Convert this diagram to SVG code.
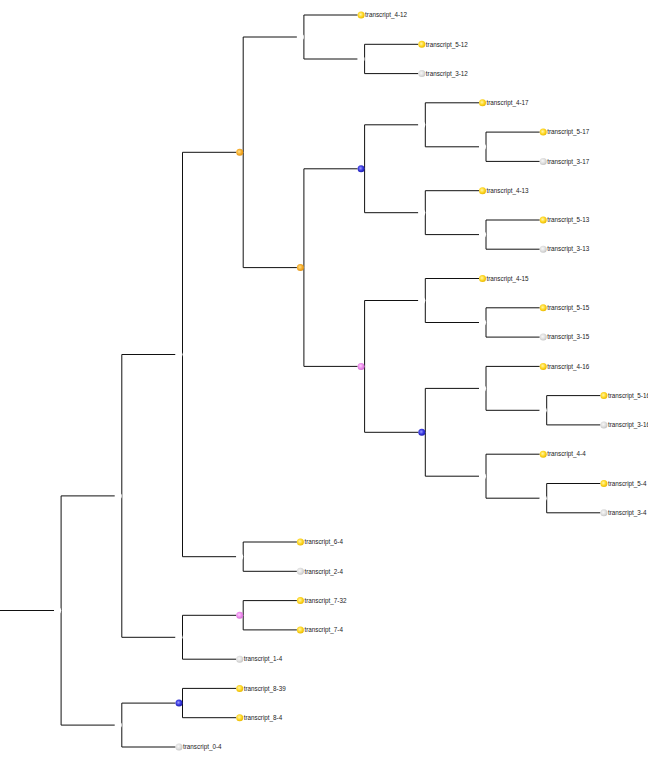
<svg xmlns="http://www.w3.org/2000/svg" width="648" height="762" viewBox="0 0 648 762">
<defs>
<radialGradient id="gy" cx="0.42" cy="0.42" r="0.6"><stop offset="0" stop-color="#fff6a8"/><stop offset="0.55" stop-color="#ffd92a"/><stop offset="1" stop-color="#e8b800"/></radialGradient>
<radialGradient id="gg" cx="0.42" cy="0.42" r="0.6"><stop offset="0" stop-color="#f8f8f8"/><stop offset="0.6" stop-color="#dedede"/><stop offset="1" stop-color="#c4c4c4"/></radialGradient>
<radialGradient id="go" cx="0.42" cy="0.42" r="0.6"><stop offset="0" stop-color="#ffe08a"/><stop offset="0.55" stop-color="#f7b030"/><stop offset="1" stop-color="#e09010"/></radialGradient>
<radialGradient id="gb" cx="0.42" cy="0.42" r="0.6"><stop offset="0" stop-color="#9a9aff"/><stop offset="0.55" stop-color="#3a3ae0"/><stop offset="1" stop-color="#1c1caa"/></radialGradient>
<radialGradient id="gp" cx="0.42" cy="0.42" r="0.6"><stop offset="0" stop-color="#ffd0ff"/><stop offset="0.55" stop-color="#ee8cee"/><stop offset="1" stop-color="#d070d0"/></radialGradient>
</defs>
<style>
.e{fill:none;stroke:#111;stroke-width:1}
.w{fill:#fff}
.y{fill:url(#gy)}
.g{fill:url(#gg)}
.o{fill:url(#go)}
.b{fill:url(#gb)}
.p{fill:url(#gp)}
text{font-family:"Liberation Sans",Arial,sans-serif;font-size:6.3px;fill:#222}
</style>
<g id="connectors">
<path class="e" d="M0,610.5H54.1"/>
<path class="e" d="M61.1,610.5V495.9H114.8"/>
<path class="e" d="M61.1,610.5V725.1H114.8"/>
<path class="e" d="M121.8,495.9V354.5H175.5"/>
<path class="e" d="M121.8,495.9V637.3H175.5"/>
<path class="e" d="M121.8,725.1V703.1H175.5"/>
<path class="e" d="M121.8,725.1V747H175.5"/>
<path class="e" d="M182.5,354.5V152.3H236.2"/>
<path class="e" d="M182.5,354.5V556.7H236.2"/>
<path class="e" d="M182.5,637.3V615.3H236.2"/>
<path class="e" d="M182.5,637.3V659.2H236.2"/>
<path class="e" d="M182.5,703.1V688.4H236.2"/>
<path class="e" d="M182.5,703.1V717.7H236.2"/>
<path class="e" d="M243.2,152.3V37H296.9"/>
<path class="e" d="M243.2,152.3V267.6H296.9"/>
<path class="e" d="M243.2,556.7V542H296.9"/>
<path class="e" d="M243.2,556.7V571.3H296.9"/>
<path class="e" d="M243.2,615.3V600.6H296.9"/>
<path class="e" d="M243.2,615.3V629.9H296.9"/>
<path class="e" d="M303.9,37V15H357.6"/>
<path class="e" d="M303.9,37V59H357.6"/>
<path class="e" d="M303.9,267.6V168.8H357.6"/>
<path class="e" d="M303.9,267.6V366.4H357.6"/>
<path class="e" d="M364.6,59V44.3H418.3"/>
<path class="e" d="M364.6,59V73.6H418.3"/>
<path class="e" d="M364.6,168.8V124.8H418.3"/>
<path class="e" d="M364.6,168.8V212.7H418.3"/>
<path class="e" d="M364.6,366.4V300.5H418.3"/>
<path class="e" d="M364.6,366.4V432.3H418.3"/>
<path class="e" d="M425.3,124.8V102.8H479"/>
<path class="e" d="M425.3,124.8V146.8H479"/>
<path class="e" d="M425.3,212.7V190.7H479"/>
<path class="e" d="M425.3,212.7V234.6H479"/>
<path class="e" d="M425.3,300.5V278.5H479"/>
<path class="e" d="M425.3,300.5V322.5H479"/>
<path class="e" d="M425.3,432.3V388.4H479"/>
<path class="e" d="M425.3,432.3V476.2H479"/>
<path class="e" d="M486,146.8V132.1H539.7"/>
<path class="e" d="M486,146.8V161.4H539.7"/>
<path class="e" d="M486,234.6V220H539.7"/>
<path class="e" d="M486,234.6V249.2H539.7"/>
<path class="e" d="M486,322.5V307.8H539.7"/>
<path class="e" d="M486,322.5V337.1H539.7"/>
<path class="e" d="M486,388.4V366.4H539.7"/>
<path class="e" d="M486,388.4V410.3H539.7"/>
<path class="e" d="M486,476.2V454.2H539.7"/>
<path class="e" d="M486,476.2V498.2H539.7"/>
<path class="e" d="M546.7,410.3V395.6H600.4"/>
<path class="e" d="M546.7,410.3V424.9H600.4"/>
<path class="e" d="M546.7,498.2V483.5H600.4"/>
<path class="e" d="M546.7,498.2V512.8H600.4"/>
</g>
<g id="n_root"><circle class="w" cx="57.6" cy="610.5" r="3.5"/></g>
<g id="n_V"><circle class="w" cx="118.3" cy="495.9" r="3.5"/></g>
<g id="n_X"><circle class="w" cx="118.3" cy="725.1" r="3.5"/></g>
<g id="n_S"><circle class="w" cx="179" cy="354.5" r="3.5"/></g>
<g id="n_U"><circle class="w" cx="179" cy="637.3" r="3.5"/></g>
<g id="n_W"><circle class="b" cx="179" cy="703.1" r="3.5"/></g>
<g id="n_Q"><circle class="o" cx="239.7" cy="152.3" r="3.5"/></g>
<g id="n_R"><circle class="w" cx="239.7" cy="556.7" r="3.5"/></g>
<g id="n_T"><circle class="p" cx="239.7" cy="615.3" r="3.5"/></g>
<g id="n_B"><circle class="w" cx="300.4" cy="37" r="3.5"/></g>
<g id="n_P"><circle class="o" cx="300.4" cy="267.6" r="3.5"/></g>
<g id="n_A"><circle class="w" cx="361.1" cy="59" r="3.5"/></g>
<g id="n_G"><circle class="b" cx="361.1" cy="168.8" r="3.5"/></g>
<g id="n_O"><circle class="p" cx="361.1" cy="366.4" r="3.5"/></g>
<g id="n_D"><circle class="w" cx="421.8" cy="124.8" r="3.5"/></g>
<g id="n_F"><circle class="w" cx="421.8" cy="212.7" r="3.5"/></g>
<g id="n_I"><circle class="w" cx="421.8" cy="300.5" r="3.5"/></g>
<g id="n_N"><circle class="b" cx="421.8" cy="432.3" r="3.5"/></g>
<g id="n_C"><circle class="w" cx="482.5" cy="146.8" r="3.5"/></g>
<g id="n_E"><circle class="w" cx="482.5" cy="234.6" r="3.5"/></g>
<g id="n_H"><circle class="w" cx="482.5" cy="322.5" r="3.5"/></g>
<g id="n_K"><circle class="w" cx="482.5" cy="388.4" r="3.5"/></g>
<g id="n_M"><circle class="w" cx="482.5" cy="476.2" r="3.5"/></g>
<g id="n_J"><circle class="w" cx="543.2" cy="410.3" r="3.5"/></g>
<g id="n_L"><circle class="w" cx="543.2" cy="498.2" r="3.5"/></g>
<g id="t_4-12"><circle class="y" cx="361.1" cy="15" r="3.5"/><text x="365.1" y="17.2">transcript_4-12</text></g>
<g id="t_5-12"><circle class="y" cx="421.8" cy="44.3" r="3.5"/><text x="425.8" y="46.5">transcript_5-12</text></g>
<g id="t_3-12"><circle class="g" cx="421.8" cy="73.6" r="3.5"/><text x="425.8" y="75.8">transcript_3-12</text></g>
<g id="t_4-17"><circle class="y" cx="482.5" cy="102.8" r="3.5"/><text x="486.5" y="105">transcript_4-17</text></g>
<g id="t_5-17"><circle class="y" cx="543.2" cy="132.1" r="3.5"/><text x="547.2" y="134.3">transcript_5-17</text></g>
<g id="t_3-17"><circle class="g" cx="543.2" cy="161.4" r="3.5"/><text x="547.2" y="163.6">transcript_3-17</text></g>
<g id="t_4-13"><circle class="y" cx="482.5" cy="190.7" r="3.5"/><text x="486.5" y="192.9">transcript_4-13</text></g>
<g id="t_5-13"><circle class="y" cx="543.2" cy="220" r="3.5"/><text x="547.2" y="222.2">transcript_5-13</text></g>
<g id="t_3-13"><circle class="g" cx="543.2" cy="249.2" r="3.5"/><text x="547.2" y="251.4">transcript_3-13</text></g>
<g id="t_4-15"><circle class="y" cx="482.5" cy="278.5" r="3.5"/><text x="486.5" y="280.7">transcript_4-15</text></g>
<g id="t_5-15"><circle class="y" cx="543.2" cy="307.8" r="3.5"/><text x="547.2" y="310">transcript_5-15</text></g>
<g id="t_3-15"><circle class="g" cx="543.2" cy="337.1" r="3.5"/><text x="547.2" y="339.3">transcript_3-15</text></g>
<g id="t_4-16"><circle class="y" cx="543.2" cy="366.4" r="3.5"/><text x="547.2" y="368.6">transcript_4-16</text></g>
<g id="t_5-16"><circle class="y" cx="603.9" cy="395.6" r="3.5"/><text x="607.9" y="397.8">transcript_5-16</text></g>
<g id="t_3-16"><circle class="g" cx="603.9" cy="424.9" r="3.5"/><text x="607.9" y="427.1">transcript_3-16</text></g>
<g id="t_4-4"><circle class="y" cx="543.2" cy="454.2" r="3.5"/><text x="547.2" y="456.4">transcript_4-4</text></g>
<g id="t_5-4"><circle class="y" cx="603.9" cy="483.5" r="3.5"/><text x="607.9" y="485.7">transcript_5-4</text></g>
<g id="t_3-4"><circle class="g" cx="603.9" cy="512.8" r="3.5"/><text x="607.9" y="515">transcript_3-4</text></g>
<g id="t_6-4"><circle class="y" cx="300.4" cy="542" r="3.5"/><text x="304.4" y="544.2">transcript_6-4</text></g>
<g id="t_2-4"><circle class="g" cx="300.4" cy="571.3" r="3.5"/><text x="304.4" y="573.5">transcript_2-4</text></g>
<g id="t_7-32"><circle class="y" cx="300.4" cy="600.6" r="3.5"/><text x="304.4" y="602.8">transcript_7-32</text></g>
<g id="t_7-4"><circle class="y" cx="300.4" cy="629.9" r="3.5"/><text x="304.4" y="632.1">transcript_7-4</text></g>
<g id="t_1-4"><circle class="g" cx="239.7" cy="659.2" r="3.5"/><text x="243.7" y="661.4">transcript_1-4</text></g>
<g id="t_8-39"><circle class="y" cx="239.7" cy="688.4" r="3.5"/><text x="243.7" y="690.6">transcript_8-39</text></g>
<g id="t_8-4"><circle class="y" cx="239.7" cy="717.7" r="3.5"/><text x="243.7" y="719.9">transcript_8-4</text></g>
<g id="t_0-4"><circle class="g" cx="179" cy="747" r="3.5"/><text x="183" y="749.2">transcript_0-4</text></g>
</svg>
